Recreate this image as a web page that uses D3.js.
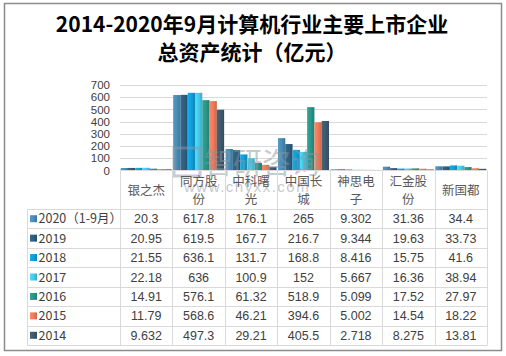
<!DOCTYPE html>
<html><head><meta charset="utf-8">
<script src="https://cdn.jsdelivr.net/npm/d3@7/dist/d3.min.js"></script>
<style>
body{margin:0;background:#fff;}
svg{display:block;}
</style></head>
<body>
<svg id="chart" width="506" height="356"></svg>
<script>
const categories = ['银之杰','同方股份','中科曙光','中国长城','神思电子','汇金股份','新国都'];
const seriesNames = ['2020（1-9月）','2019','2018','2017','2016','2015','2014'];
const v2020 = [20.3, 617.8, 176.1, 265, 9.302, 31.36, 34.4];
const v2019 = [20.95, 619.5, 167.7, 216.7, 9.344, 19.63, 33.73];
const v2018 = [21.55, 636.1, 131.7, 168.8, 8.416, 15.75, 41.6];
const v2017 = [22.18, 636, 100.9, 152, 5.667, 16.36, 38.94];
const v2016 = [14.91, 576.1, 61.32, 518.9, 5.099, 17.52, 27.97];
const v2015 = [11.79, 568.6, 46.21, 394.6, 5.002, 14.54, 18.22];
const v2014 = [9.632, 497.3, 29.21, 405.5, 2.718, 8.275, 13.81];
const yTicks = [0,100,200,300,400,500,600,700];

const seriesValues = [v2020, v2019, v2018, v2017, v2016, v2015, v2014];
const colors = ['#4a8db5','#2f5f80','#109fd8','#46cbe8','#2b968a','#ef7b5b','#3e5a6e'];

const svg = d3.select('#chart');
const font = "'Liberation Sans', Arial, sans-serif";

// outer border
svg.append('rect').attr('x',4.5).attr('y',3.5).attr('width',497).attr('height',347)
  .attr('fill','#fff').attr('stroke','#8c8c8c').attr('stroke-width',1.5);

// title
const title = svg.append('text').attr('text-anchor','middle')
  .attr('font-family',"'Noto Sans CJK SC', sans-serif").attr('font-weight','bold')
  .attr('font-size',21).attr('fill','#000');
title.append('tspan').attr('x',252).attr('y',32).text('2014-2020年9月计算机行业主要上市企业');
title.append('tspan').attr('x',252).attr('y',60).text('总资产统计（亿元）');

const left = 120, right = 487;
const x = d3.scaleBand().domain(categories).range([left,right]).paddingInner(0).paddingOuter(0);
const x1 = d3.scaleBand().domain(seriesNames).range([0,x.bandwidth()]).paddingInner(0).paddingOuter(0.1);
const y = d3.scaleLinear().domain([0,700]).range([170.5,85]);

// gradients
const defs = svg.append('defs');
colors.forEach((c,i)=>{
  const g = defs.append('linearGradient').attr('id','g'+i).attr('x1','0').attr('x2','1').attr('y1','0').attr('y2','0');
  const col = d3.color(c);
  g.append('stop').attr('offset','0').attr('stop-color',col.brighter(0.25));
  g.append('stop').attr('offset','0.5').attr('stop-color',c);
  g.append('stop').attr('offset','1').attr('stop-color',col.darker(0.5));
});

// grid
svg.append('g').selectAll('line').data(yTicks.filter(d=>d>0)).join('line')
  .attr('x1',left).attr('x2',right).attr('y1',d=>Math.round(y(d))+0.5).attr('y2',d=>Math.round(y(d))+0.5)
  .attr('stroke','#d9d9d9').attr('stroke-width',1);

// y axis
const yAxis = d3.axisLeft(y).tickValues(yTicks).tickSize(0).tickPadding(0);
const ya = svg.append('g').attr('transform',`translate(${110},0)`).call(yAxis);
ya.select('.domain').remove();
ya.selectAll('text').attr('font-family',font).attr('font-size',11.5).attr('fill','#404040');

// bars
const groups = svg.append('g').selectAll('g').data(categories).join('g')
  .attr('transform',d=>`translate(${x(d)},0)`);
groups.selectAll('rect').data((d,ci)=>seriesNames.map((s,si)=>({s,si,v:seriesValues[si][ci]}))).join('rect')
  .attr('x',d=>x1(d.s)).attr('width',x1.bandwidth())
  .attr('y',d=>y(d.v)).attr('height',d=>y(0)-y(d.v))
  .attr('fill',d=>`url(#g${d.si})`);

// watermark
const wm = svg.append('g').attr('opacity',0.5);
wm.append('rect').attr('x',174).attr('y',148).attr('width',26).attr('height',28).attr('fill','none')
  .attr('stroke','#8a9bb0').attr('stroke-width',3);
wm.append('text').attr('x',204).attr('y',174).attr('font-family',"'Noto Sans CJK SC', sans-serif")
  .attr('font-size',29).attr('fill','#8c96a0').text('智研咨询');
wm.append('text').attr('x',184).attr('y',192).attr('font-family',font)
  .attr('font-size',15).attr('fill','#8c96a0').attr('letter-spacing',1.5).text('www.chyxx.com');

// table
const rowTop = 209, rowH = (345-209)/7, tableLeft = 27;
const tg = svg.append('g');
const lineCol = '#d9d9d9';
tg.append('line').attr('x1',left).attr('x2',right).attr('y1',170.5).attr('y2',170.5).attr('stroke',lineCol);
const vx = categories.map(c=>x(c)).concat([right]);
tg.selectAll('.vl').data(vx).join('line').attr('class','vl')
  .attr('x1',d=>Math.round(d)+0.5).attr('x2',d=>Math.round(d)+0.5).attr('y1',170.5).attr('y2',345.5).attr('stroke',lineCol);
tg.append('line').attr('x1',tableLeft+0.5).attr('x2',tableLeft+0.5).attr('y1',rowTop+0.5).attr('y2',345.5).attr('stroke',lineCol);
d3.range(8).forEach(i=>{
  const yy = Math.round(rowTop + i*rowH)+0.5;
  tg.append('line').attr('x1',tableLeft).attr('x2',right).attr('y1',yy).attr('y2',yy).attr('stroke',lineCol);
});
const hdr = tg.selectAll('.hd').data(categories).join('text').attr('class','hd')
  .attr('text-anchor','middle').attr('font-family',"'Noto Sans CJK SC', sans-serif")
  .attr('font-size',12.5).attr('fill','#595959');
hdr.each(function(c){
  const t = d3.select(this), cx = x(c)+x.bandwidth()/2;
  if(c.length<=3){
    t.append('tspan').attr('x',cx).attr('y',195).text(c);
  } else {
    t.append('tspan').attr('x',cx).attr('y',186).text(c.slice(0,3));
    t.append('tspan').attr('x',cx).attr('y',204).text(c.slice(3));
  }
});
seriesNames.forEach((s,si)=>{
  const cy = rowTop + si*rowH + rowH/2;
  tg.append('rect').attr('x',30).attr('y',cy-3.5).attr('width',7).attr('height',7)
    .attr('fill',`url(#g${si})`);
  tg.append('text').attr('x',38.5).attr('y',cy+4.5).attr('font-family',"'Noto Sans CJK SC', "+font)
    .attr('font-size',12.5).attr('fill','#404040').text(s);
  categories.forEach((c,ci)=>{
    tg.append('text').attr('x',x(c)+x.bandwidth()/2).attr('y',cy+4.5).attr('text-anchor','middle')
      .attr('font-family',font).attr('font-size',12.5).attr('fill','#404040')
      .text(String(seriesValues[si][ci]));
  });
});
</script>
</body></html>
